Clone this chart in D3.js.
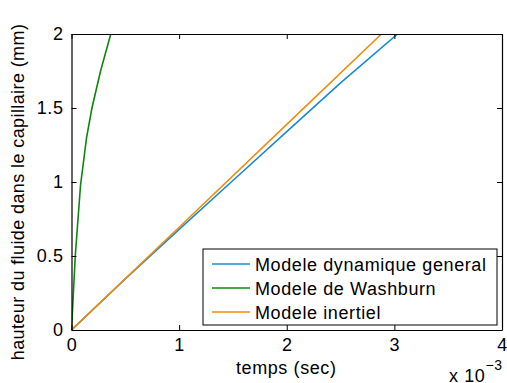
<!DOCTYPE html>
<html>
<head>
<meta charset="utf-8">
<script src="https://cdnjs.cloudflare.com/ajax/libs/d3/7.8.5/d3.min.js"></script>
<style>
  body { margin: 0; background: #fff; }
  text { font-family: "Liberation Sans", Arial, sans-serif; fill: #000; letter-spacing: 0.6px; }
</style>
</head>
<body>
<div id="chart"></div>
<script>
// temps en ms (axe x en unites de 1e-3 s), hauteur en mm
var dynamique = [[0, 0], [0.5, 0.345], [1, 0.68], [1.5, 1.01], [2, 1.34], [2.5, 1.67], [3.03, 2]];
var washburn = [[0, 0], [0.035, 0.5], [0.084, 0.98], [0.14, 1.3], [0.19, 1.5], [0.27, 1.75], [0.365, 2]];
var inertiel = [[0, 0], [1, 0.694], [2, 1.389], [2.88, 2]];

var xTicks = [0, 1, 2, 3, 4];
var yTicks = [0, 0.5, 1, 1.5, 2];
var series = [
  { name: "Modele dynamique general", data: dynamique, color: "#1a8bd3" },
  { name: "Modele de Washburn", data: washburn, color: "#0b870b" },
  { name: "Modele inertiel", data: inertiel, color: "#f08d0c" }
];

var w = 507, h = 383;
var mLeft = 71.5, mRight = 502, mTop = 34, mBottom = 330;

var svg = d3.select("#chart").append("svg")
  .attr("width", w)
  .attr("height", h);

var x = d3.scaleLinear().domain([0, 4]).range([mLeft, mRight]);
var y = d3.scaleLinear().domain([0, 2]).range([mBottom, mTop]);

// lines (clipped to plot box)
svg.append("clipPath").attr("id", "clip")
  .append("rect").attr("x", mLeft).attr("y", mTop)
  .attr("width", mRight - mLeft).attr("height", mBottom - mTop);

var line = d3.line().x(d => x(d[0])).y(d => y(d[1]));

svg.append("g").attr("clip-path", "url(#clip)")
  .selectAll("path")
  .data(series)
  .enter()
  .append("path")
  .attr("d", d => line(d.data))
  .attr("fill", "none")
  .attr("stroke", d => d.color)
  .attr("stroke-width", 1.6);

// axes, ticks inside, box all around
var fmt = d3.format("");
svg.append("g").attr("transform", "translate(0," + mBottom + ")")
  .call(d3.axisBottom(x).tickValues(xTicks).tickSizeInner(-5).tickSizeOuter(0).tickPadding(8).tickFormat(fmt));
svg.append("g").attr("transform", "translate(0," + mTop + ")")
  .call(d3.axisTop(x).tickValues(xTicks).tickSizeInner(-5).tickSizeOuter(0).tickFormat(""));
svg.append("g").attr("transform", "translate(" + mLeft + ",0)")
  .call(d3.axisLeft(y).tickValues(yTicks).tickSizeInner(-5).tickSizeOuter(0).tickPadding(8).tickFormat(fmt));
svg.append("g").attr("transform", "translate(" + mRight + ",0)")
  .call(d3.axisRight(y).tickValues(yTicks).tickSizeInner(-5).tickSizeOuter(0).tickFormat(""));

svg.selectAll(".domain").attr("stroke", "#000").attr("stroke-width", 1.2);
svg.selectAll(".tick line").attr("stroke", "#000");
svg.selectAll(".tick text")
  .style("font-size", "18px")
  .style("font-family", "Liberation Sans, Arial, sans-serif");

// axis labels
svg.append("text")
  .attr("x", (mLeft + mRight) / 2 - 0.5)
  .attr("y", 374)
  .attr("text-anchor", "middle")
  .style("font-size", "18px")
  .text("temps (sec)");

svg.append("text")
  .attr("transform", "translate(24,192) rotate(-90)")
  .attr("text-anchor", "middle")
  .style("font-size", "18px")
  .style("letter-spacing", "0.4px")
  .text("hauteur du fluide dans le capillaire (mm)");

var mult = svg.append("text")
  .attr("x", 449)
  .attr("y", 382)
  .style("font-size", "18px");
mult.append("tspan").text("x 10");
mult.append("tspan").attr("dy", -12).attr("dx", 0).style("font-size", "14px").text("\u22123");

// legend
var lg = svg.append("g").attr("transform", "translate(203,249)");
lg.append("rect")
  .attr("width", 294).attr("height", 76)
  .attr("fill", "#fff").attr("stroke", "#000").attr("stroke-width", 1);

var item = lg.selectAll("g.item")
  .data(series)
  .enter()
  .append("g")
  .attr("class", "item")
  .attr("transform", (d, i) => "translate(0," + (15 + i * 24) + ")");

item.append("line")
  .attr("x1", 9).attr("x2", 47)
  .attr("stroke", d => d.color)
  .attr("stroke-width", 1.6);

item.append("text")
  .attr("x", 52)
  .attr("y", 6.5)
  .style("font-size", "18px")
  .text(d => d.name);
</script>
</body>
</html>
